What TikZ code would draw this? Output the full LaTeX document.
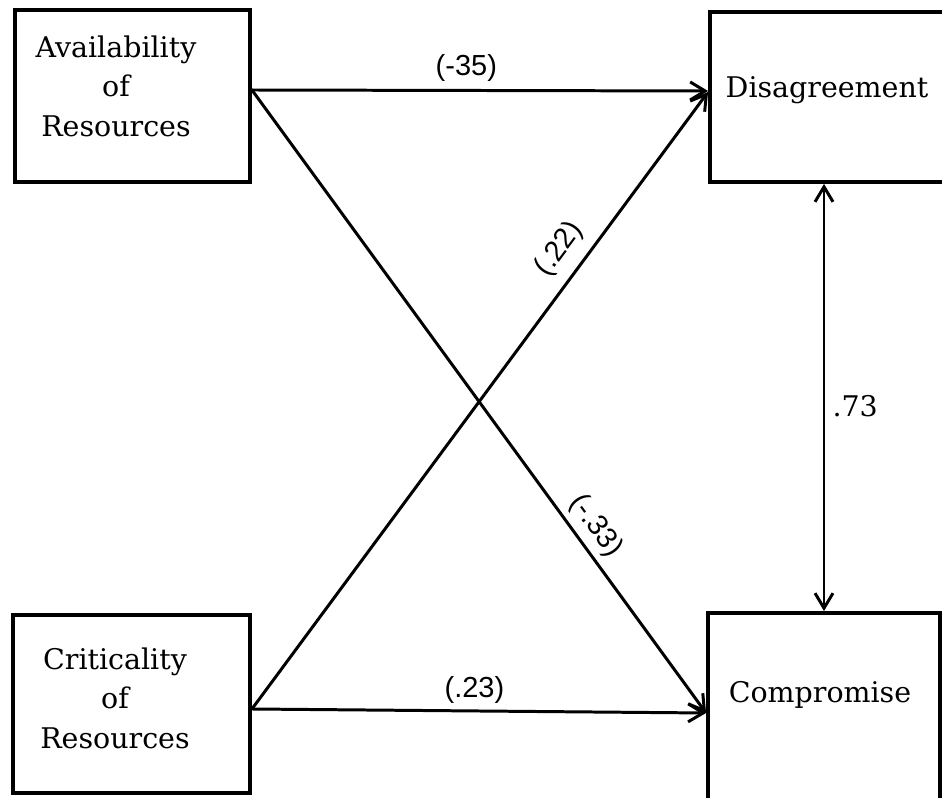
\documentclass[tikz,border=0pt]{standalone}
\usepackage{fontspec}
\setmainfont{DejaVu Serif}
\newfontfamily\numfont{Liberation Sans}
\usepackage{tikz}
\usetikzlibrary{calc}
\usetikzlibrary{arrows.meta}
\usetikzlibrary{positioning}
\tikzset{>={Straight Barb[length = 3mm, width = 3.6mm]}}
\tikzstyle{box} = [draw, rectangle, line width = 2.2pt, inner sep = 0]
\tikzstyle{txt} = [draw=none, align = center, inner sep = 1, font = \fontsize{16.2}{22.5}\selectfont]
\tikzstyle{coef} = [draw=none, font = \numfont\fontsize{16.5}{18}\selectfont]
\tikzstyle{link} = [line width = 1.7pt]

\begin{document}
\begin{tikzpicture}
\useasboundingbox (0, 0) rectangle (18.84, 15.96);
%boxes
\node [box, minimum width = 4.7cm, minimum height = 3.44cm] (AvB) at (2.65, 14.04) {};
\node [box, minimum width = 4.74cm, minimum height = 3.56cm] (CrB) at (2.63, 1.88) {};
\node [box, minimum width = 5cm, minimum height = 3.4cm] (DiB) at (16.7, 14.02) {};
\node [box, minimum width = 4.64cm, minimum height = 3.8cm] (CoB) at (16.48, 1.8) {};
\node [txt] (Av) at (2.32, 14.24) {Availability\\of\\Resources};
\node [txt] (Cr) at (2.3, 2.0) {Criticality\\of\\Resources};
\node [txt] (Di) at (16.54, 14.16) {Disagreement};
\node [txt] (Co) at (16.4, 2.06) {Compromise};
%paths
\draw [->, link] ($(AvB.east) + (0, .12)$) to node [coef, above = 1pt, pos = .47] (c1) {(-35)} ($(DiB.west) + (0, .12)$);
\draw [->, link] ($(AvB.east) + (0, .12)$) to node [coef, above = 0pt, sloped, pos = .72] (c2) {(-.33)} ($(CoB.west) + (0, -.1)$);
\draw [->, link] ($(CrB.east) + (0, -.1)$) to node [coef, above = 3pt, sloped, pos = .72] (c3) {(.22)} ($(DiB.west) + (0, .1)$);
\draw [->, link] ($(CrB.east) + (0, -.1)$) to node [coef, above, pos = .49] (c4) {(.23)} ($(CoB.west) + (0, -.1)$);
\draw [<->, link] (DiB.south -| CoB.north) to node [txt, right = 3pt, pos = .52] (c5) {.73} (CoB.north);
\end{tikzpicture}
\end{document}
